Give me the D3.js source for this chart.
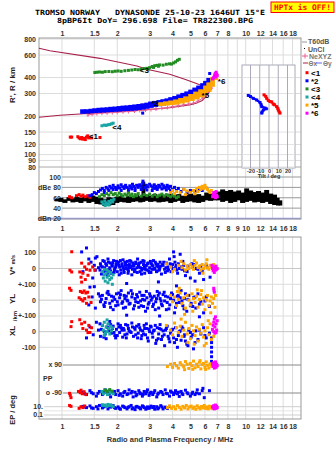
<!DOCTYPE html>
<html><head><meta charset="utf-8">
<script src="https://cdn.jsdelivr.net/npm/d3@7"></script>
<style>body{margin:0;background:#fff}svg{display:block}</style>
</head><body><svg id="c" width="335" height="451"></svg>
<script>
// ---------------- DATA ----------------
const freqTicks = [1,1.5,2,3,4,5,6,7,8,9,10,12,14,16,18];
const freqTicksEnd = [1,1.5,2,3,4,5,6,7,8,10,12,14,16,18];
const heightTicks = [80,90,100,120,150,200,300,400,600,800];
const dbTicks = [100,80,60,40,20];
const dbLabels = ["100","dBe 80","60","40","dBn 20"];
const tiltTicks = [-20,-10,0,10,20];

// top panel: virtual height traces (MHz, km)
const red1 = [[1.11,137],[1.13,137],[1.22,138],[1.24,135],[1.26,133],[1.28,136],[1.30,132],[1.32,134],[1.34,131],[1.36,137],[1.38,140],[1.40,135],[1.45,135],[1.61,136]];
const teal4 = [[1.65,168],[1.70,170],[1.74,169],[1.78,171],[1.82,172],[1.86,174],[1.90,176]];
const green3 = [[1.51,438],[1.55,440],[1.60,442],[1.66,440],[1.72,445],[1.80,446],[1.88,444],[1.95,448],[2.02,450],[2.10,447],[2.2,452],[2.3,455],[2.4,458],[2.5,462],[2.6,460],[2.7,465],[2.8,470],[2.9,472],[3.0,478],[3.1,488],[3.2,495],[3.3,498],[3.4,502],[3.55,500],[3.7,508],[3.85,512],[3.95,510],[4.05,520],[4.15,530],[4.25,545],[4.35,555],[2.95,465],[3.15,480],[3.35,490]];
// blue *2 trace as [MHz, low km, high km]
const blue2 = [[1.28,212,222],[1.35,213,222],[1.42,214,224],[1.49,215,226],[1.57,216,228],[1.65,217,229],[1.74,218,230],[1.82,219,232],[1.92,220,233],[2.02,221,235],[2.12,222,237],[2.23,223,238],[2.34,224,240],[2.46,225,242],[2.59,227,244],[2.72,229,247],[2.86,232,250],[3.00,236,255],[3.16,240,258],[3.33,243,262],[3.50,246,266],[3.68,250,270],[3.86,254,276],[4.06,258,282],[4.27,265,290],[4.49,272,298],[4.72,280,306],[4.96,288,316],[5.22,296,328],[5.48,305,340],[5.76,315,355],[5.98,330,370],[6.22,355,390]];
const blue2Extra = [[2.75,211],[6.37,430]];
const orange5 = [[3.40,244,252],[3.62,246,256],[3.86,248,260],[4.11,250,265],[4.37,255,272],[4.66,260,280],[4.96,267,292],[5.28,275,305],[5.62,285,318],[5.98,300,340],[6.22,315,360],[6.53,345,395],[6.80,390,430]];
const magenta6 = [[6.6,390],[6.7,400],[6.75,410],[6.8,420],[6.85,430],[6.9,440],[6.95,425],[7.0,415],[6.9,405],[6.65,395]];
const profUpper = [[0.75,677],[0.86,648],[1.61,565],[2.56,492],[2.9,464],[3.86,424],[4.66,388],[5.4,360],[5.98,339],[6.4,325]];
const profLower = [[0.75,196],[0.975,203],[1.61,212],[2.65,222],[3.86,232],[5.0,245],[5.42,253],[5.8,265],[6.06,282],[6.3,305],[6.5,331]];
const neXYZ = [[1.385,204],[1.46,207],[1.55,209],[1.65,211],[1.76,212],[1.88,213],[2.0,214],[2.15,216],[2.3,217],[2.48,219],[2.65,221],[2.85,223],[3.05,225],[3.25,227],[3.5,230],[3.75,233],[4.0,237],[4.3,241],[4.6,245],[4.9,248],[5.2,252],[5.5,262],[5.84,277],[6.05,292],[6.22,308],[6.53,331]];
const traceLabels = [["<1",1.40,140],["*2",3.05,250],["<3",2.65,457],["<4",1.88,163],["*5",5.75,292],["*6",7.05,375]];

// tilt inset (deg, km)
const tiltX = [[-5.4,293],[-3.5,285],[-2.5,275],[-0.8,265],[1,260],[2.9,258],[4.6,248],[6,245],[8.3,237],[9.5,230],[10,223],[11,216],[11.9,211]];
const tiltY = [[-22.4,290],[-20,284],[-17,275],[-13.3,267],[-9.7,255],[-8.5,245],[-7.9,237],[-4.3,231],[-3,228],[-6.2,223],[-7.5,215],[-7.9,211]];

// dB panel: noise (MHz, low dB, high dB)
const noise = [[0.93,53,58],[0.975,52,60],[1.025,50,57],[1.078,54,61],[1.133,51,59],[1.191,52,62],[1.253,50,60],[1.317,53,63],[1.385,50,61],[1.455,52,64],[1.53,48,62],[1.61,47,60],[1.69,44,58],[1.78,45,61],[1.87,46,60],[1.965,50,62],[2.066,52,63],[2.17,51,60],[2.28,50,64],[2.40,52,62],[2.52,53,65],[2.65,51,63],[2.76,52,91],[2.86,54,66],[3.0,52,64],[3.16,53,67],[3.33,51,63],[3.5,52,66],[3.68,53,64],[3.86,50,68],[4.06,52,65],[4.27,54,67],[4.49,50,64],[4.72,52,66],[4.96,53,68],[5.22,51,65],[5.48,50,67],[5.76,52,64],[6.06,55,70],[6.37,54,68],[6.69,55,66],[7.04,55,72],[7.4,52,76],[7.78,54,73],[8.18,50,75],[8.6,52,72],[9.05,55,74],[9.5,50,70],[10.0,52,78],[10.5,54,74],[11.05,51,71],[11.6,52,73],[12.2,50,70],[12.85,52,75],[13.5,48,68],[14.2,46,66],[14.9,45,60],[15.4,45,55]];
const redDb = [[1.10,62],[1.13,60],[1.20,64],[1.24,66],[1.27,63],[1.30,65],[1.34,62],[1.38,64],[1.42,61]];
const blueDb = [[1.42,64],[1.46,66],[1.50,70],[1.54,68],[1.58,72],[1.62,75],[1.66,78],[1.70,74],[1.74,80],[1.78,77],[1.82,82],[1.86,79],[1.90,84],[1.94,80],[1.98,76],[2.02,83],[2.06,79],[2.10,85],[2.14,81],[2.18,78],[2.22,84],[2.26,80],[2.30,77],[2.34,83],[2.38,80],[2.42,86],[2.46,82],[2.50,78],[2.55,84],[2.60,80],[2.65,85],[2.70,82],[2.76,92],[2.76,88],[2.82,79],[2.88,84],[2.94,81],[3.0,86],[3.06,83],[3.12,80],[3.18,85],[3.24,82],[3.30,79],[3.36,84],[3.42,81],[3.5,86],[3.58,83],[3.66,80],[3.74,84],[3.82,78],[3.9,82],[4.0,76],[4.1,80],[4.2,74],[4.3,78],[4.45,72],[4.6,76],[4.8,70],[5.0,74],[5.3,72],[5.6,76],[5.8,74],[1.70,70],[1.90,76],[2.10,74],[2.30,72],[2.50,74],[2.70,76],[2.90,75],[3.10,74],[3.30,76],[3.50,77],[3.70,75],[3.90,74],[1.80,74],[2.00,79],[2.20,81],[2.40,77],[2.60,83],[2.85,80],[3.20,78],[3.40,81],[3.60,79],[3.80,81]];
const greenDb = [[1.60,62],[1.65,66],[1.70,64],[1.75,68],[1.80,65],[1.85,70],[1.90,66],[1.95,68],[2.0,64],[2.05,69],[2.1,66],[2.15,63],[2.2,67],[2.25,65],[2.3,69],[2.35,64],[2.4,67],[2.45,62],[2.5,66],[2.55,64],[2.6,68],[2.7,63],[2.8,66],[2.9,64],[3.0,67],[3.1,63],[3.2,66],[3.3,62],[3.4,65],[3.5,67],[3.6,63],[3.7,66],[3.8,64],[3.9,62],[4.0,65],[4.1,63],[4.2,60],[4.3,62]];
const tealDb = [[1.65,52],[1.68,48],[1.71,54],[1.74,50],[1.77,47],[1.80,53],[1.83,50],[1.86,55],[1.89,52],[1.92,57],[1.72,45],[1.80,46]];
const orangeDb = [[3.9,70],[4.0,74],[4.1,68],[4.2,72],[4.4,70],[4.6,76],[4.8,73],[5.0,70],[5.2,74],[5.4,78],[5.5,72],[5.6,80],[5.7,76],[5.8,82],[5.9,78],[6.0,84],[6.1,80],[6.2,76],[6.3,72],[6.4,70],[6.5,74],[5.3,68],[4.7,66]];
const magentaDb = [[6.6,62],[6.65,66],[6.7,70],[6.75,64],[6.8,68],[6.85,60],[6.9,72],[6.95,65],[7.0,62]];

// lower panel: V* (m/s)
const redV = [[1.13,106],[1.105,-11],[1.13,-22],[1.28,34],[1.25,-22],[1.30,-30],[1.33,10],[1.36,-5],[1.385,-43],[1.42,-11],[1.28,-86],[1.47,10],[1.51,-11],[1.27,-55],[1.34,-70],[1.40,30]];
const blueV = [[1.28,105],[1.30,-20],[1.36,130],[1.40,60],[1.44,40],[1.47,-60],[1.50,20],[1.52,-10],[1.55,75],[1.58,5],[1.62,30],[1.64,-35],[1.66,10],[1.70,45],[1.72,-15],[1.75,20],[1.78,60],[1.80,-5],[1.83,35],[1.86,-30],[1.88,15],[1.91,50],[1.94,0],[1.97,25],[2.00,-20],[2.03,40],[2.06,10],[2.09,-10],[2.12,30],[2.15,55],[2.18,-25],[2.21,20],[2.24,0],[2.27,45],[2.30,-15],[2.33,25],[2.36,5],[2.40,-40],[2.43,35],[2.46,15],[2.50,-5],[2.54,30],[2.58,60],[2.62,10],[2.66,-20],[2.70,40],[2.74,0],[2.78,25],[2.82,-30],[2.86,15],[2.90,-10],[2.95,35],[3.00,5],[3.05,-25],[3.10,20],[3.15,50],[3.20,0],[3.25,30],[3.30,-15],[3.36,10],[3.42,40],[3.48,-35],[3.55,20],[3.62,-5],[3.70,35],[3.78,10],[3.85,60],[3.92,-20],[4.00,25],[4.08,75],[4.15,5],[4.22,-10],[4.30,30],[4.40,90],[4.50,-5],[4.60,20],[4.70,-45],[4.85,15],[5.00,-60],[5.15,10],[5.30,-80],[5.50,-5],[5.70,15],[5.90,-70],[6.10,20],[6.40,-55],
 [1.63,15],[1.68,-20],[1.73,30],[1.77,-40],[1.82,5],[1.87,25],[1.93,-10],[1.98,45],[2.04,20],[2.10,-30],[2.16,5],[2.22,35],[2.28,-5],[2.34,50],[2.41,15],[2.48,-20],[2.56,5],[2.64,35],[2.72,-10],[2.80,45],[2.88,20],[2.97,-15],[3.07,30],[3.18,-5],[3.28,15],[3.40,0],[3.52,25],[3.65,-25],[3.80,-5],[3.95,20],[4.12,40],[4.35,0],[4.55,45],[4.80,-20],[5.10,30],[5.40,0],[5.80,-15],[6.20,5],[1.42,-118],[1.52,66],[2.25,-95],[3.35,-85],[4.05,105],
 [1.61,-10],[1.67,50],[1.71,5],[1.76,-25],[1.79,40],[1.84,-15],[1.89,35],[1.92,-25],[1.96,10],[2.01,30],[2.05,-40],[2.08,50],[2.13,15],[2.17,-10],[2.20,40],[2.25,20],[2.29,-30],[2.32,10],[2.37,45],[2.42,-5],[2.45,25],[2.52,40],[2.57,-25],[2.61,20],[2.67,5],[2.71,-35],[2.76,50],[2.81,10],[2.84,-5],[2.92,30],[2.99,-25],[3.03,45],[3.09,-5],[3.13,15],[3.22,40],[3.27,-20],[3.33,25],[3.39,-10],[3.45,15],[3.58,40],[3.68,5],[3.75,-15],[3.88,30],[4.02,0],[4.18,20],[4.26,-30],[4.48,10],[4.65,-15],[5.25,25],[5.60,-30]];
const tealV = [[1.66,-20],[1.68,-60],[1.70,-40],[1.72,-80],[1.74,-30],[1.76,-55],[1.78,-90],[1.80,-45],[1.82,-70],[1.84,-25],[1.86,-60],[1.88,-100],[1.70,-5],[1.76,-10],[1.80,-20],[1.90,-40]];
const orangeV = [[3.7,30],[3.9,10],[4.1,-5],[4.3,20],[4.5,5],[4.6,30],[4.7,-10],[4.8,15],[4.9,0],[5.0,25],[5.1,10],[5.2,-5],[5.3,20],[5.4,35],[5.5,5],[5.6,15],[5.7,-10],[5.8,25],[5.9,0],[6.0,15],[6.1,30],[6.2,5],[6.3,-5],[6.4,20],[6.5,10],[6.6,0],[6.7,25],[5.25,50],[4.45,45],[6.15,55],[4.0,-20],[5.85,-30]];
const magentaV = [[6.55,20],[6.6,0],[6.65,-15],[6.7,10],[6.75,-25],[6.8,5],[6.85,-10],[6.9,15],[6.95,-5],[7.0,0]];

// lower panel: YL (km)
const redYL = [[1.10,75],[1.12,62],[1.26,55],[1.29,48],[1.32,58],[1.35,45],[1.38,50],[1.24,15],[1.27,5],[1.30,-5],[1.33,10],[1.40,20],[1.44,-15],[1.36,-20]];
const blueYL = [[1.40,-30],[1.46,20],[1.52,-50],[1.58,40],[1.62,-10],[1.66,30],[1.70,-40],[1.74,10],[1.78,55],[1.82,-20],[1.86,25],[1.90,-60],[1.94,5],[1.98,40],[2.02,-30],[2.06,15],[2.10,60],[2.14,-10],[2.18,30],[2.22,-45],[2.26,0],[2.30,45],[2.35,-20],[2.40,20],[2.45,-55],[2.50,10],[2.55,35],[2.60,-15],[2.65,50],[2.70,-35],[2.75,5],[2.80,30],[2.85,-70],[2.90,15],[2.95,-25],[3.00,40],[3.06,0],[3.12,-40],[3.18,25],[3.24,-10],[3.30,55],[3.36,-50],[3.42,10],[3.48,-25],[3.55,35],[3.62,-5],[3.70,-60],[3.78,20],[3.86,-30],[3.95,45],[4.05,0],[4.15,-45],[4.25,25],[4.35,-15],[4.45,60],[4.55,-35],[4.65,10],[4.78,-70],[4.90,30],[5.05,-20],[5.20,15],[5.35,-50],[5.50,40],[5.70,-10],[5.90,-80],[6.10,20],[6.35,-40],
 [1.64,5],[1.72,-15],[1.80,35],[1.88,-5],[1.96,-35],[2.04,45],[2.12,-20],[2.20,10],[2.28,-5],[2.38,60],[2.48,-35],[2.58,20],[2.68,-5],[2.78,-40],[2.88,55],[2.98,-15],[3.10,15],[3.22,-60],[3.34,30],[3.46,-5],[3.60,50],[3.74,-15],[3.90,10],[4.10,-80],[4.30,30],[4.50,-5],[4.70,40],[5.00,-35],[5.30,20],[5.60,-25],[6.00,-5],[1.50,85],[2.25,-95],[3.40,-100],[4.20,90],[5.6,-105],
 [1.61,25],[1.69,-30],[1.76,45],[1.84,-45],[1.91,20],[2.00,-10],[2.08,35],[2.16,-50],[2.24,25],[2.32,-25],[2.42,40],[2.52,-10],[2.62,-45],[2.72,30],[2.82,0],[2.92,-50],[3.03,25],[3.15,-25],[3.27,10],[3.39,45],[3.52,-35],[3.66,25],[3.82,-55],[4.00,35],[4.20,-20],[4.40,15],[4.62,-55],[4.85,5],[5.15,-40]];
const orangeYL = [[3.9,30],[4.0,-10],[4.1,20],[4.2,-35],[4.3,5],[4.4,45],[4.5,-20],[4.6,15],[4.7,-50],[4.8,30],[4.9,0],[5.0,-30],[5.1,40],[5.2,10],[5.3,-15],[5.4,25],[5.5,-45],[5.6,5],[5.7,35],[5.8,-25],[5.9,15],[6.0,-60],[6.1,0],[6.2,30],[6.3,-35],[6.4,-5],[6.5,20],[6.6,-20],[6.7,10],[6.8,-45],[4.25,55],[5.15,-70],[5.75,60],[6.45,-80],[6.85,30],[4.65,-90],[5.45,65],[4.35,75]];
const magentaYL = [[6.7,75],[6.72,62],[6.75,50]];

// lower panel: XL (km)
const redXL = [[1.13,64],[1.12,32],[1.25,76],[1.28,50],[1.30,20],[1.33,60],[1.36,10],[1.40,40],[1.42,-5],[1.385,-6],[1.45,25]];
const blueXL = [[1.36,-40],[1.42,30],[1.48,-20],[1.54,60],[1.58,10],[1.62,-30],[1.66,40],[1.70,0],[1.74,-45],[1.78,25],[1.82,65],[1.86,-10],[1.90,35],[1.94,-25],[1.98,15],[2.02,50],[2.06,-5],[2.10,25],[2.14,-35],[2.18,10],[2.22,45],[2.26,-15],[2.30,20],[2.35,0],[2.40,55],[2.45,-30],[2.50,15],[2.55,35],[2.60,-10],[2.65,25],[2.70,-45],[2.75,5],[2.80,40],[2.85,-20],[2.90,20],[2.95,-60],[3.00,0],[3.06,30],[3.12,-35],[3.18,10],[3.24,-75],[3.30,25],[3.36,-15],[3.42,45],[3.48,-50],[3.55,5],[3.62,-90],[3.70,20],[3.78,-30],[3.86,-65],[3.95,10],[4.05,-40],[4.15,25],[4.25,-100],[4.35,0],[4.45,-55],[4.55,20],[4.65,-20],[4.78,-80],[4.90,10],[5.05,-35],[5.20,-110],[5.35,5],[5.50,-50],[5.70,-15],[5.90,25],[6.10,-40],[6.35,-10],
 [1.64,15],[1.72,-15],[1.80,5],[1.88,20],[1.96,-40],[2.04,30],[2.12,10],[2.20,-20],[2.28,40],[2.38,-5],[2.48,25],[2.58,-40],[2.68,10],[2.78,-15],[2.88,50],[2.98,15],[3.10,-10],[3.22,40],[3.34,-45],[3.46,15],[3.60,-20],[3.74,35],[3.90,-10],[4.10,-70],[4.30,-25],[4.50,30],[4.70,-60],[5.00,-5],[5.30,-70],[5.60,10],[6.00,-25],
 [1.61,50],[1.69,-35],[1.76,30],[1.84,45],[1.92,-5],[2.00,-25],[2.08,40],[2.16,20],[2.24,-40],[2.32,5],[2.42,30],[2.52,-20],[2.62,45],[2.72,-25],[2.82,20],[2.92,-40],[3.03,35],[3.15,5],[3.27,-55],[3.39,20],[3.52,-30],[3.66,10],[3.82,-45],[4.00,15],[4.20,-50],[4.40,5],[4.62,-30],[4.85,-90],[5.15,-20],
 [6.52,-40],[6.52,-70],[6.52,-100],[6.52,-130],[6.52,-160],[6.52,-190]];
const tealXL = [[1.66,40],[1.68,10],[1.70,60],[1.72,-10],[1.74,30],[1.76,0],[1.78,50],[1.80,20],[1.82,-15],[1.84,35],[1.86,5],[1.88,25],[1.70,-25],[1.76,75]];
const orangeXL = [[3.7,40],[3.9,10],[4.0,-20],[4.1,55],[4.2,25],[4.3,-5],[4.4,35],[4.5,-30],[4.6,10],[4.7,60],[4.8,-15],[4.9,20],[5.0,-45],[5.1,40],[5.2,5],[5.3,-25],[5.4,30],[5.5,-60],[5.6,15],[5.7,-10],[5.8,45],[5.9,-35],[6.0,5],[6.1,-75],[6.2,25],[6.3,-20],[6.4,50],[6.5,-50],[6.6,10],[6.7,-30],[4.45,80],[5.25,-80],[5.95,-90],[6.25,70],[4.85,-70]];
const magentaXL = [[6.6,15],[6.65,40],[6.7,60],[6.75,80],[6.8,30],[6.85,95],[6.9,50],[6.95,10],[7.0,70],[6.7,0],[6.8,-10],[6.9,-5]];

// lower panel: PP (deg)
const redPP = [[1.10,-92],[1.11,-105],[1.12,-120],[1.23,-80],[1.26,-88],[1.29,-95],[1.32,-82],[1.35,-100],[1.27,-72]];
const bluePP = [[1.30,-85],[1.36,-100],[1.42,-75],[1.48,-95],[1.54,-110],[1.60,-80],[1.66,-100],[1.72,-70],[1.78,-90],[1.84,-115],[1.90,-85],[1.96,-100],[2.02,-75],[2.08,-95],[2.14,-110],[2.20,-80],[2.26,-100],[2.32,-70],[2.38,-90],[2.44,-115],[2.50,-85],[2.56,-100],[2.62,-75],[2.68,-95],[2.74,-110],[2.80,-80],[2.86,-95],[2.92,-70],[2.98,-105],[3.05,-85],[3.12,-100],[3.20,-75],[3.28,-115],[3.36,-90],[3.45,-80],[3.55,-100],[3.65,-70],[3.75,-95],[3.85,-110],[3.95,-85],[4.05,-100],[4.15,-75],[4.25,-95],[4.35,-112],[4.45,-80],[4.55,-100],[4.70,-72],[4.85,-95],[5.00,-110],[5.15,-85],[5.30,-100],[5.45,-70],[5.60,-95],[5.80,-75],[5.95,-120],[5.85,-60],[6.35,-75],
 [1.33,-95],[1.45,-88],[1.57,-92],[1.69,-85],[1.81,-95],[1.93,-80],[2.05,-105],[2.17,-88],[2.29,-95],[2.41,-80],[2.53,-108],[2.65,-88],[2.77,-98],[2.89,-82],[3.01,-92],[3.16,-88],[3.32,-98],[3.50,-86],[3.70,-92],[3.90,-78],[4.10,-90],[4.30,-85],[4.50,-92],[4.80,-88],[5.10,-95],[5.40,-90]];
const tealPP = [[1.65,-80],[1.68,-95],[1.71,-70],[1.74,-88],[1.77,-100],[1.80,-75],[1.83,-90],[1.86,-82],[1.90,-95]];
const greenPP = [[1.72,-72],[1.76,-80],[1.82,-68],[1.88,-78]];
const orangePP = [[3.75,80],[3.9,95],[4.0,75],[4.1,100],[4.2,85],[4.3,70],[4.4,105],[4.5,90],[4.6,78],[4.7,112],[4.8,95],[4.9,68],[5.0,100],[5.1,85],[5.2,115],[5.3,72],[5.4,95],[5.5,80],[5.6,108],[5.7,65],[5.8,92],[5.9,100],[6.0,75],[6.1,110],[6.2,88],[6.3,70],[6.4,98],[6.5,82],[5.15,62],[5.65,118],[4.65,60],[6.05,62]];
const magentaPP = [[6.6,95],[6.65,80],[6.7,105],[6.75,70],[6.8,90],[6.85,110],[6.9,75],[6.95,95],[7.0,85]];

// lower panel: EP (deg, log)
const redEP = [[1.10,20],[1.12,12],[1.24,4],[1.27,10],[1.30,6],[1.33,15]];
const blueEP = [[1.30,12],[1.36,6],[1.42,15],[1.48,4],[1.54,10],[1.60,20],[1.66,5],[1.72,12],[1.78,3],[1.84,8],[1.90,18],[1.96,4],[2.02,9],[2.08,2.5],[2.14,14],[2.20,6],[2.26,3],[2.32,10],[2.38,20],[2.44,5],[2.50,2],[2.56,12],[2.62,7],[2.68,3],[2.74,16],[2.80,6],[2.86,2.5],[2.92,9],[2.98,4],[3.05,14],[3.12,6],[3.20,2.5],[3.28,10],[3.36,5],[3.45,18],[3.55,3],[3.65,8],[3.75,4],[3.85,12],
 [1.33,8],[1.45,5],[1.57,3],[1.69,9],[1.81,14],[1.93,6],[2.05,4],[2.17,10],[2.29,7],[2.41,3],[2.53,9],[2.65,5],[2.77,11],[2.89,4],[3.01,7],[3.16,11],[3.32,3],[3.50,9],[3.70,6]];
const tealEP = [[1.66,30],[1.69,18],[1.72,25],[1.75,12],[1.78,35],[1.81,20],[1.84,28],[1.87,15],[1.90,10]];
const orangeEP = [[3.75,6],[3.85,15],[3.95,4],[4.05,10],[4.15,3],[4.25,18],[4.35,7],[4.45,2.5],[4.55,12],[4.65,5],[4.75,20],[4.85,3],[4.95,9],[5.05,14],[5.15,4],[5.25,8],[5.35,2.5],[5.45,16],[5.55,6],[5.65,3],[5.75,11],[5.85,5],[5.95,20],[6.05,4],[6.15,9],[6.25,3],[6.35,13],[6.45,6],[6.55,4]];
const magentaEP = [[6.6,10],[6.65,5],[6.7,18],[6.75,3],[6.8,8],[6.85,25],[6.9,4],[6.95,12],[7.0,6]];

const legendItems = [["<1","#ff0000"],["*2","#0000ff"],["<3","#228b22"],["<4","#1aa5a5"],["*5","#ffa500"],["*6","#ff00ff"]];

// ---------------- DRAW ----------------
const C = {red:"#ff0000",blue:"#0000ff",green:"#228b22",teal:"#1aa5a5",orange:"#ffa500",magenta:"#ff00ff",maroon:"#a8204a",pink:"#e8609a"};
const SANS = "Liberation Sans, Arial, sans-serif";
const MONO = "DejaVu Sans Mono, monospace";
const svg = d3.select("#c");

const x = d3.scaleLog().domain([0.75,20]).range([39,301]);
const yH = d3.scaleLog().domain([80,800]).range([167,39]);
const yDb = d3.scaleLinear().domain([20,100]).range([218.5,177]);
const yV = d3.scaleLinear().domain([-100,100]).range([284.3,252.7]);
const yYL = d3.scaleLinear().domain([-100,100]).range([316,284.3]);
const yXL = d3.scaleLinear().domain([-100,100]).range([347.3,316]);
const yPP = d3.scaleLinear().domain([-90,90]).range([393,365]);
const yEP = d3.scaleLog().domain([0.1,10]).range([415,406.7]);
const xT = d3.scaleLinear().domain([-29.2,28.1]).range([242,295]);

const TOP=38, MIDB=219, LT=237, LB=419, L=39, R=301;

// header
function mono(t,cx,y,len,col,fs){
  svg.append("text").attr("x",cx).attr("y",y).attr("text-anchor","middle").attr("font-family",MONO)
    .attr("font-size",fs||7.2).attr("font-weight","bold").attr("fill",col||"#000")
    .attr("textLength",len).attr("lengthAdjust","spacingAndGlyphs").attr("xml:space","preserve").text(t);
}
mono("TROMSO NORWAY   DYNASONDE 25-10-23 1646UT 15°E",150,14.8,230);
mono("8pBP6It DoY= 296.698 File= TR822300.BPG",155,23.2,196);
svg.append("rect").attr("x",271).attr("y",2).attr("width",63).attr("height",10.5).attr("fill","#ffff00").attr("stroke","#ff0000").attr("stroke-width",1);
mono("HPTx is OFF!",302.5,10.3,57,"#ff0000",7.6);

// grids
const grid = svg.append("g");
freqTicks.forEach(f=>{
  grid.append("line").attr("x1",x(f)).attr("x2",x(f)).attr("y1",TOP).attr("y2",MIDB).attr("stroke","#dcdcdc").attr("stroke-width",1);
  grid.append("line").attr("x1",x(f)).attr("x2",x(f)).attr("y1",LT).attr("y2",LB).attr("stroke","#dcdcdc").attr("stroke-width",1);
});
heightTicks.forEach(h=>{
  grid.append("line").attr("x1",L).attr("x2",R).attr("y1",yH(h)).attr("y2",yH(h)).attr("stroke", h===80?"#aaa":"#dcdcdc");
});
dbTicks.forEach(d=>{
  grid.append("line").attr("x1",d===20?L:62).attr("x2",R).attr("y1",yDb(d)).attr("y2",yDb(d))
    .attr("stroke", d===20?"#9999ee":"#999").attr("stroke-width", d===20?1.5:1);
});
// lower panel lines
[[yV,100,"#ddd"],[yV,0,"#c8c8c8"],[yV,-100,"#ddd"],[yYL,0,"#c8c8c8"],[yXL,100,"#ddd"],[yXL,0,"#c8c8c8"],[yXL,-100,"#ddd"]].forEach(([s,v,c])=>{
  grid.append("line").attr("x1",L).attr("x2",R).attr("y1",s(v)).attr("y2",s(v)).attr("stroke",c);
});
[90,-90].forEach(v=>grid.append("line").attr("x1",63).attr("x2",R).attr("y1",yPP(v)).attr("y2",yPP(v)).attr("stroke","#888"));
[10,1,0.1].forEach(v=>grid.append("line").attr("x1",44).attr("x2",R).attr("y1",yEP(v)).attr("y2",yEP(v)).attr("stroke",v===1?"#e4e4e4":"#cfcfcf"));

// frames
svg.append("rect").attr("x",L).attr("y",TOP).attr("width",R-L).attr("height",MIDB-TOP).attr("fill","none").attr("stroke","#999");
svg.append("rect").attr("x",L).attr("y",LT).attr("width",R-L).attr("height",LB-LT).attr("fill","none").attr("stroke","#999");

// axes
function styleAxis(g,fs){
  g.select(".domain").remove();
  g.selectAll("text").attr("font-family",SANS).attr("font-size",fs||7).attr("font-weight","bold").attr("fill","#333");
}
styleAxis(svg.append("g").attr("transform","translate(0,36)").call(d3.axisTop(x).tickValues(freqTicksEnd).tickSize(0).tickPadding(0).tickFormat(d=>d)));
styleAxis(svg.append("g").attr("transform","translate(0,226)").call(d3.axisBottom(x).tickValues(freqTicks).tickSize(0).tickPadding(0).tickFormat(d=>d)));
styleAxis(svg.append("g").attr("transform","translate(0,424)").call(d3.axisBottom(x).tickValues(freqTicksEnd).tickSize(0).tickPadding(0).tickFormat(d=>d)));
styleAxis(svg.append("g").attr("transform",`translate(${L},0)`).call(d3.axisLeft(yH).tickValues(heightTicks).tickSize(0).tickPadding(3).tickFormat(d=>d)));
styleAxis(svg.append("g").attr("transform","translate(61,0)").call(d3.axisLeft(yDb).tickValues(dbTicks).tickSize(0).tickPadding(0).tickFormat((d,i)=>dbLabels[i])));

// lower-panel labels
function lab(t,xx,yy,anchor,fs){
  svg.append("text").attr("x",xx).attr("y",yy).attr("dy","0.35em").attr("text-anchor",anchor||"end")
    .attr("font-family",SANS).attr("font-size",fs||7).attr("font-weight","bold").attr("fill","#333").text(t);
}
lab("100",36,yV(100)); lab("0",36,yV(0)); lab("+-100",36,yV(-100));
lab("0",36,yYL(0)); lab("+-100",36,yXL(100)); lab("0",36,yXL(0)); lab("-100",36,yXL(-100));
lab("x  90",62,yPP(90)); lab("o -90",62,yPP(-90)); lab("PP",43,yPP(0),"start");
lab("10.",43,yEP(10)); lab("0.1",43,yEP(0.1));

function rot(t,xx,yy,fs){
  const tx = svg.append("text").attr("transform",`translate(${xx},${yy}) rotate(-90)`).attr("text-anchor","middle")
    .attr("font-family",SANS).attr("font-size",fs||8).attr("font-weight","bold").attr("fill","#222");
  return tx.text(t);
}
rot("R', R / km",15,85);
const vlab = svg.append("text").attr("transform","translate(15,265) rotate(-90)").attr("text-anchor","middle")
  .attr("font-family",SANS).attr("font-weight","bold").attr("fill","#222");
vlab.append("tspan").attr("font-size",8).text("V*");
vlab.append("tspan").attr("font-size",5.5).attr("dx",2).text("m/s");
rot("YL",15,299); rot("/km",17,316,6); rot("XL",15,331); rot("EP / deg",15,410,7.5);
svg.append("text").attr("x",170).attr("y",441.5).attr("text-anchor","middle").attr("font-family",SANS).attr("font-size",7.5).attr("font-weight","bold").attr("fill","#333").text("Radio and Plasma Frequency / MHz");

// point helper
function pts(data,ys,color,sz){
  sz = sz||3;
  svg.append("g").selectAll("rect").data(data).join("rect")
    .attr("x",d=>x(d[0])-sz/2).attr("y",d=>ys(d[1])-sz/2).attr("width",sz).attr("height",sz).attr("fill",color);
}
function bands(data,ys,color){
  svg.append("g").selectAll("rect").data(data).join("rect")
    .attr("x",(d,i)=>x(d[0])-1.5)
    .attr("width",(d,i)=>{const n=data[i+1]||data[i-1]; return Math.abs(x(n[0])-x(d[0]))+1.5;})
    .attr("y",d=>ys(d[2])-1).attr("height",d=>Math.max(2,ys(d[1])-ys(d[2])+2)).attr("fill",color);
}

// tilt inset
const inset = svg.append("g");
inset.append("rect").attr("x",242).attr("y",65).attr("width",53).attr("height",103).attr("fill","#fff").attr("stroke","#aab");
heightTicks.filter(h=>h<=450).forEach(h=>inset.append("line").attr("x1",242).attr("x2",295).attr("y1",yH(h)).attr("y2",yH(h)).attr("stroke","#e2e2e2"));
tiltTicks.forEach(t=>inset.append("line").attr("x1",xT(t)).attr("x2",xT(t)).attr("y1",65).attr("y2",168).attr("stroke","#aab"));
const ti = inset.append("g").attr("transform","translate(0,168)").call(d3.axisBottom(xT).tickValues(tiltTicks).tickSize(0).tickPadding(1).tickFormat(d=>d));
styleAxis(ti,5.5);
inset.append("text").attr("x",269).attr("y",177.5).attr("text-anchor","middle").attr("font-family",SANS).attr("font-size",5.5).attr("font-weight","bold").attr("fill","#333").text("Tilt / deg");
[[tiltX,C.red],[tiltY,C.blue]].forEach(([d,c])=>{
  inset.append("path").datum(d).attr("d",d3.line().x(p=>xT(p[0])).y(p=>yH(p[1]))).attr("fill","none").attr("stroke",c).attr("stroke-width",2.2);
  inset.selectAll(null).data(d).join("rect").attr("x",p=>xT(p[0])-1.5).attr("y",p=>yH(p[1])-1.5).attr("width",3).attr("height",3).attr("fill",c);
});

// profile lines
const lineH = d3.line().x(d=>x(d[0])).y(d=>yH(d[1]));
svg.append("path").datum(profUpper).attr("d",lineH).attr("fill","none").attr("stroke",C.maroon).attr("stroke-width",1.1);
svg.append("path").datum(profLower).attr("d",lineH).attr("fill","none").attr("stroke",C.maroon).attr("stroke-width",1.1);
svg.append("path").datum(neXYZ).attr("d",lineH).attr("fill","none").attr("stroke",C.pink).attr("stroke-width",1);
svg.append("g").selectAll("path").data(neXYZ).join("path")
  .attr("d",d=>{const a=x(d[0]),b=yH(d[1]);return `M${a-1.5},${b}H${a+1.5}M${a},${b-2}V${b+2}`;})
  .attr("stroke",C.pink).attr("stroke-width",1);

// top panel traces
pts(red1,yH,C.red);
pts(teal4,yH,C.teal);
pts(green3,yH,C.green);
bands(blue2,yH,C.blue);
pts(blue2Extra,yH,C.blue);
bands(orange5,yH,C.orange);
pts(magenta6,yH,C.magenta);
traceLabels.forEach(([t,f,h])=>{
  svg.append("text").attr("x",x(f)).attr("y",yH(h)).attr("dy","0.35em").attr("font-family",SANS).attr("font-size",8).attr("font-weight","bold").attr("fill","#000").text(t);
});

// dB panel
svg.append("g").selectAll("rect").data(noise).join("rect")
  .attr("x",d=>x(d[0])-1.5)
  .attr("width",(d,i)=>{const n=noise[i+1]||noise[i-1]; return Math.abs(x(n[0])-x(d[0]))+1;})
  .attr("y",d=>yDb(d[2])).attr("height",d=>yDb(d[1])-yDb(d[2])).attr("fill","#000");
pts(redDb,yDb,C.red); pts(blueDb,yDb,C.blue); pts(greenDb,yDb,C.green); pts(tealDb,yDb,C.teal); pts(orangeDb,yDb,C.orange); pts(magentaDb,yDb,C.magenta);

// lower panel
pts(blueV,yV,C.blue); pts(redV,yV,C.red); pts(tealV,yV,C.teal); pts(orangeV,yV,C.orange); pts(magentaV,yV,C.magenta);
pts(blueYL,yYL,C.blue); pts(redYL,yYL,C.red); pts(orangeYL,yYL,C.orange); pts(magentaYL,yYL,C.magenta);
pts(blueXL,yXL,C.blue); pts(redXL,yXL,C.red); pts(tealXL,yXL,C.teal); pts(orangeXL,yXL,C.orange); pts(magentaXL,yXL,C.magenta);
pts(bluePP,yPP,C.blue); pts(redPP,yPP,C.red); pts(tealPP,yPP,C.teal); pts(greenPP,yPP,C.green); pts(orangePP,yPP,C.orange); pts(magentaPP,yPP,C.magenta);
pts(blueEP,yEP,C.blue); pts(redEP,yEP,C.red); pts(tealEP,yEP,C.teal); pts(orangeEP,yEP,C.orange); pts(magentaEP,yEP,C.magenta);

// legend
const lg = svg.append("g").attr("font-family",SANS).attr("font-size",7).attr("font-weight","bold");
lg.append("line").attr("x1",302).attr("x2",307).attr("y1",42).attr("y2",42).attr("stroke","#999");
lg.append("text").attr("x",308).attr("y",42).attr("dy","0.35em").attr("fill","#555").text("T60dB");
lg.append("rect").attr("x",304).attr("y",48).attr("width",1).attr("height",1).attr("fill","#000");
lg.append("text").attr("x",308).attr("y",49.5).attr("dy","0.35em").attr("fill","#555").text("UnCl");
lg.append("path").attr("d","M302,56H308M305,53.5V58.5").attr("stroke",C.pink);
lg.append("text").attr("x",309).attr("y",56.5).attr("dy","0.35em").attr("fill","#777").text("NeXYZ");
lg.append("line").attr("x1",303).attr("x2",308).attr("y1",63).attr("y2",63).attr("stroke",C.maroon);
lg.append("text").attr("x",308.5).attr("y",63.5).attr("dy","0.35em").attr("fill","#777").attr("font-size",6.5).text("Θx");
lg.append("line").attr("x1",316).attr("x2",322).attr("y1",63).attr("y2",63).attr("stroke","#6666ee");
lg.append("text").attr("x",323).attr("y",63.5).attr("dy","0.35em").attr("fill","#777").attr("font-size",6.5).text("Θy");
legendItems.forEach(([t,c],i)=>{
  const yy = 72.7 + i*8.1;
  lg.append("rect").attr("x",305.5).attr("y",yy-1.5).attr("width",3).attr("height",3).attr("fill",c);
  lg.append("text").attr("x",311).attr("y",yy).attr("dy","0.35em").attr("fill","#000").attr("font-size",8).text(t);
});
</script></body></html>
